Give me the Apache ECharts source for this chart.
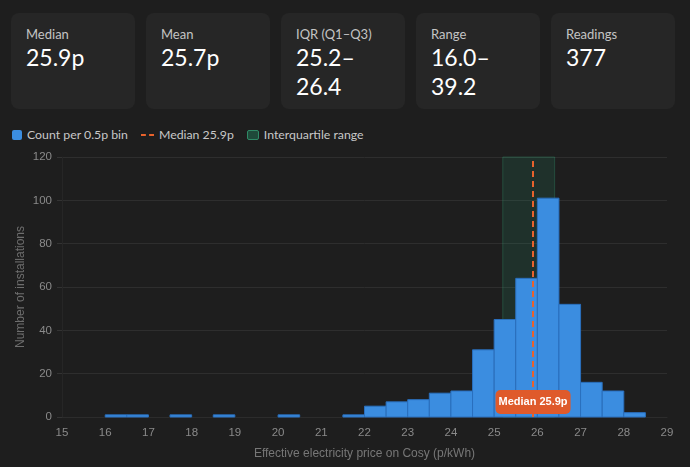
<!DOCTYPE html>
<html>
<head>
<meta charset="utf-8">
<script src="https://cdn.jsdelivr.net/npm/echarts@6/dist/echarts.min.js"></script>
<style>
  html, body { margin: 0; padding: 0; background: #1e1e1e; }
  body { width: 690px; height: 467px; position: relative; overflow: hidden; font-family: Lato, Inter, "Noto Sans", sans-serif; }
  .cards { position: absolute; left: 11px; top: 13px; display: flex; gap: 11px; }
  .card { width: 124px; height: 96px; box-sizing: border-box; background: #262626; border-radius: 8px; padding: 12px 15px; }
  .card .lbl { font-size: 13px; color: #c4c4c4; line-height: 18px; }
  .card .val { font-size: 23px; color: #fff; line-height: 29px; margin-top: 0px; }
  .legend { position: absolute; left: 12px; top: 127px; display: flex; align-items: center; font-size: 12.3px; color: #c8c8c8; }
  .legend .item { display: flex; align-items: center; margin-right: 13px; }
  .legend .sw { width: 10px; height: 10px; border-radius: 2px; margin-right: 5px; box-sizing: border-box; }
  .legend .dash { width: 13px; height: 0; border-top: 2px dashed #e8622c; margin-right: 5px; }
  #chart { position: absolute; left: 0; top: 145px; width: 690px; height: 322px; }
</style>
</head>
<body>
<div class="cards" id="cards"></div>
<div class="legend">
  <div class="item"><span class="sw" style="background:#3b8de0"></span>Count per 0.5p bin</div>
  <div class="item"><span class="dash"></span>Median 25.9p</div>
  <div class="item"><span class="sw" style="background:#1f4a3a;border:1px solid #2f8a66;width:12px"></span>Interquartile range</div>
</div>
<div id="chart"></div>
<script>
// summary stats
const statLabels = ['Median', 'Mean', 'IQR (Q1–Q3)', 'Range', 'Readings']
const statValues = ['25.9p', '25.7p', '25.2–<br>26.4', '16.0–<br>39.2', '377']

// histogram bins (start of each 0.5p bin) and counts
const binStarts = [16.0, 16.5, 17.5, 18.5, 20.0, 21.5, 22.0, 22.5, 23.0, 23.5, 24.0, 24.5, 25.0, 25.5, 26.0, 26.5, 27.0, 27.5, 28.0]
const binCounts = [1, 1, 1, 1, 1, 1, 5, 7, 8, 11, 12, 31, 45, 64, 101, 52, 16, 12, 2]
const binWidth = 0.5

const median = 25.9
const q1 = 25.2
const q3 = 26.4

const xTicks = [15, 29]
const yTicks = [0, 120]

document.getElementById('cards').innerHTML = statLabels.map((l, i) =>
  '<div class="card"><div class="lbl">' + l + '</div><div class="val">' + statValues[i] + '</div></div>'
).join('')

const chart = echarts.init(document.getElementById('chart'))
const axisFont = '"Liberation Sans", Arial, sans-serif'

chart.setOption({
  animation: false,
  grid: { left: 62, right: 23, top: 12, bottom: 50 },
  xAxis: {
    type: 'value',
    min: xTicks[0], max: xTicks[1], interval: 1,
    name: 'Effective electricity price on Cosy (p/kWh)',
    nameLocation: 'middle', nameGap: 31,
    nameTextStyle: { color: '#777', fontSize: 12, fontFamily: axisFont },
    axisLine: { show: true, lineStyle: { color: '#2c2c2c' } },
    axisTick: { show: false },
    splitLine: { show: false },
    axisLabel: { color: '#8a8a8a', fontSize: 11.5, margin: 10, fontFamily: axisFont }
  },
  yAxis: {
    type: 'value',
    min: yTicks[0], max: yTicks[1], interval: 20,
    name: 'Number of installations',
    nameLocation: 'middle', nameGap: 35,
    nameMoveOverlap: false,
    nameTextStyle: { color: '#6e6e6e', fontSize: 12, fontFamily: axisFont },
    axisLine: { show: true, lineStyle: { color: '#262626' } },
    axisTick: { show: true, length: 5, lineStyle: { color: '#333' } },
    splitLine: { lineStyle: { color: '#2e2e2e' } },
    axisLabel: { color: '#8a8a8a', fontSize: 11.5, margin: 10, fontFamily: axisFont }
  },
  series: [
    {
      name: 'Count per 0.5p bin',
      type: 'custom',
      z: 2,
      data: binStarts.map((s, i) => [s, binCounts[i]]),
      renderItem(params, api) {
        const s = api.value(0)
        const c = api.value(1)
        const p0 = api.coord([s, c])
        const p1 = api.coord([s + binWidth, 0])
        return {
          type: 'rect',
          shape: { x: p0[0], y: p0[1], width: p1[0] - p0[0], height: p1[1] - p0[1] },
          style: { fill: '#3b8de0', stroke: '#2a6fbd', lineWidth: 1 }
        }
      }
    },
    {
      name: 'Interquartile range',
      type: 'line',
      z: 3,
      data: [],
      markArea: {
        silent: true,
        itemStyle: { color: 'rgba(40,175,130,0.13)', borderColor: 'rgba(60,190,140,0.25)', borderWidth: 1 },
        data: [[{ xAxis: q1 }, { xAxis: q3 }]]
      }
    },
    {
      name: 'Median 25.9p',
      type: 'line',
      z: 4,
      data: [],
      markLine: {
        silent: true,
        symbol: 'none',
        lineStyle: { color: '#e8622c', type: [6, 4], width: 2 },
        label: { show: false },
        data: [{ xAxis: median }]
      },
      markPoint: {
        silent: true,
        symbol: 'circle', symbolSize: 0,
        data: [{ coord: [median, 0] }],
        label: {
          show: true,
          position: 'inside',
          offset: [0, -15],
          formatter: 'Median 25.9p',
          color: '#fff',
          fontWeight: 'bold',
          fontSize: 11,
          fontFamily: axisFont,
          backgroundColor: '#df5a2b',
          borderRadius: 5,
          padding: [7, 3, 6, 3]
        }
      }
    }
  ]
})
</script>
</body>
</html>
